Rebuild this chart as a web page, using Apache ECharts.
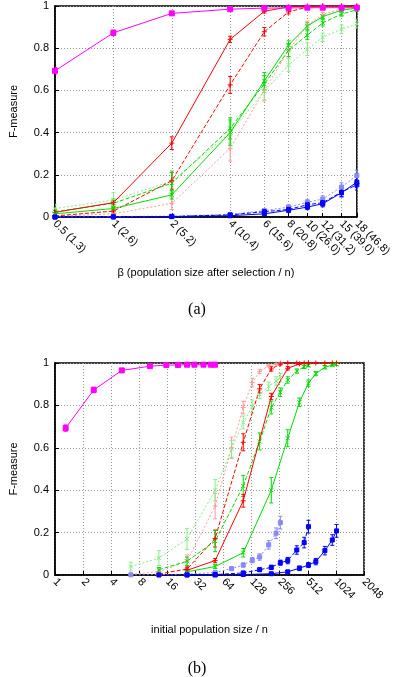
<!DOCTYPE html>
<html><head><meta charset="utf-8">
<script src="https://cdn.jsdelivr.net/npm/echarts@6/dist/echarts.min.js"></script>
<style>html,body{margin:0;padding:0;background:#fff}#c{width:394px;height:677px}</style>
</head><body><div id="c"></div>
<script>
// ---- data ----
const beta = [0.5, 1, 2, 4, 6, 8, 10, 12, 15, 18, 20];
const topTickValues = [0.5, 1, 2, 4, 6, 8, 10, 12, 15, 18];
const topTickLabels = ['0.5 (1.3)', '1 (2.6)', '2 (5.2)', '4 (10.4)', '6 (15.6)', '8 (20.8)', '10 (26.0)', '12 (31.2)', '15 (39.0)', '18 (46.8)'];
const bottomTickValues = [1, 2, 4, 8, 16, 32, 64, 128, 256, 512, 1024, 2048];
// initial population size per unit of beta
const kMagenta = 2.6, kSolid = 52, kDashed = 26, kLight = 13;

const magenta      = [0.693, 0.873, 0.965, 0.985, 0.990, 0.991, 0.992, 0.992, 0.992, 0.992, 0.992];
const magentaErr   = [0.015, 0.013, 0.006, 0.004, 0.003, 0.003, 0.003, 0.003, 0.003, 0.003, 0.003];
const redSolid     = [0.022, 0.068, 0.350, 0.842, 0.975, 0.996, 1.000, 1.000, 1.000, 1.000, 1.000];
const redSolidErr  = [0.005, 0.010, 0.030, 0.015, 0.008, 0.003, 0.002, 0.002, 0.002, 0.002, 0.002];
const redDashed    = [0.005, 0.028, 0.172, 0.626, 0.878, 0.972, 0.995, 1.000, 1.000, 1.000, 1.000];
const redDashedErr = [0.003, 0.010, 0.040, 0.040, 0.020, 0.010, 0.005, 0.002, 0.002, 0.002, 0.002];
const redLight     = [0.003, 0.015, 0.065, 0.325, 0.600, 0.790, 0.908, 0.960, 0.987, 0.995, 1.000];
const redLightErr  = [0.003, 0.008, 0.030, 0.060, 0.050, 0.030, 0.020, 0.010, 0.005, 0.003, 0.002];
const greenSolid     = [0.015, 0.040, 0.105, 0.400, 0.645, 0.815, 0.905, 0.950, 0.980, 0.990, 0.993];
const greenSolidErr  = [0.005, 0.010, 0.020, 0.060, 0.040, 0.020, 0.015, 0.010, 0.008, 0.005, 0.005];
const greenDashed    = [0.025, 0.065, 0.160, 0.420, 0.630, 0.790, 0.862, 0.920, 0.962, 0.982, 0.988];
const greenDashedErr = [0.010, 0.020, 0.050, 0.050, 0.040, 0.030, 0.020, 0.015, 0.010, 0.008, 0.006];
const greenLight     = [0.040, 0.080, 0.170, 0.400, 0.595, 0.720, 0.795, 0.852, 0.890, 0.915, 0.930];
const greenLightErr  = [0.020, 0.035, 0.050, 0.050, 0.040, 0.030, 0.030, 0.020, 0.020, 0.020, 0.020];
const blueSolid      = [0.000, 0.000, 0.002, 0.006, 0.015, 0.032, 0.047, 0.063, 0.115, 0.165, 0.208];
const blueSolidErr   = [0.001, 0.001, 0.002, 0.004, 0.006, 0.010, 0.012, 0.015, 0.020, 0.025, 0.030];
const blueDashed     = [0.000, 0.001, 0.002, 0.010, 0.025, 0.036, 0.058, 0.068, 0.118, 0.153, 0.228];
const blueDashedErr  = [0.001, 0.001, 0.002, 0.004, 0.008, 0.010, 0.012, 0.015, 0.020, 0.025, 0.030];
const blueLight      = [0.001, 0.002, 0.004, 0.012, 0.030, 0.047, 0.070, 0.085, 0.142, 0.197, 0.247];
const blueLightErr   = [0.001, 0.001, 0.002, 0.004, 0.008, 0.010, 0.012, 0.015, 0.020, 0.025, 0.030];

// ---- styles ----
const PLUS = 'path://M0,-5L0,5M-5,0L5,0';
const CROSS = 'path://M-5,-5L5,5M-5,5L5,-5';
const specs = [
  {v: redLight,    e: redLightErr,    k: kLight,  color: '#ff9a9a', dash: [2, 2], sym: PLUS,  size: 5},
  {v: greenLight,  e: greenLightErr,  k: kLight,  color: '#88ee88', dash: [2, 2], sym: CROSS, size: 4},
  {v: blueLight,   e: blueLightErr,   k: kLight,  color: '#8888ff', dash: [2, 2], sym: 'rect', size: 4},
  {v: redDashed,   e: redDashedErr,   k: kDashed, color: '#ff0000', dash: [4, 2], sym: PLUS,  size: 5},
  {v: greenDashed, e: greenDashedErr, k: kDashed, color: '#00dd00', dash: [4, 2], sym: CROSS, size: 4},
  {v: blueDashed,  e: blueDashedErr,  k: kDashed, color: '#0000ff', dash: [4, 2], sym: 'rect', size: 4},
  {v: redSolid,    e: redSolidErr,    k: kSolid,  color: '#ff0000', dash: 'solid', sym: PLUS,  size: 5},
  {v: greenSolid,  e: greenSolidErr,  k: kSolid,  color: '#00dd00', dash: 'solid', sym: CROSS, size: 4},
  {v: blueSolid,   e: blueSolidErr,   k: kSolid,  color: '#0000ff', dash: 'solid', sym: 'rect', size: 4},
  {v: magenta,     e: magentaErr,     k: kMagenta, color: '#ff00ff', dash: 'solid', sym: 'rect', size: 5}
];

const FONT = 'Liberation Sans, Arial, sans-serif';
function errRender(color) {
  return function (params, api) {
    const x = api.value(0);
    const p1 = api.coord([x, api.value(1)]);
    const p2 = api.coord([x, api.value(2)]);
    const w = 2;
    const st = {stroke: color, lineWidth: 1};
    return {type: 'group', children: [
      {type: 'line', shape: {x1: p1[0], y1: p1[1], x2: p2[0], y2: p2[1]}, style: st},
      {type: 'line', shape: {x1: p1[0] - w, y1: p1[1], x2: p1[0] + w, y2: p1[1]}, style: st},
      {type: 'line', shape: {x1: p2[0] - w, y1: p2[1], x2: p2[0] + w, y2: p2[1]}, style: st}
    ]};
  };
}

const series = [];
[0, 1].forEach(function (g) {
  specs.forEach(function (s) {
    const xs = beta.map(function (b) { return g === 0 ? b : b * s.k; });
    series.push({
      type: 'custom', xAxisIndex: g, yAxisIndex: g, clip: true, silent: true,
      renderItem: errRender(s.color),
      encode: {x: 0, y: [1, 2]},
      data: xs.map(function (x, i) { return [x, Math.max(0, s.v[i] - s.e[i]), s.v[i] + s.e[i]]; })
    });
    series.push({
      type: 'line', xAxisIndex: g, yAxisIndex: g, clip: true, silent: true,
      data: xs.map(function (x, i) { return [x, s.v[i]]; }),
      symbol: s.sym, symbolSize: s.size, showSymbol: true,
      lineStyle: {color: s.color, width: 1, type: s.dash},
      itemStyle: {color: s.color, borderColor: s.color, borderWidth: 1},
      animation: false
    });
  });
});

const gridLine = {show: true, lineStyle: {color: '#999', width: 1, type: [1, 2]}};
function yAxis(g) {
  return {
    type: 'value', gridIndex: g, min: 0, max: 1, interval: 0.2,
    name: 'F-measure', nameLocation: 'middle', nameGap: 36, nameRotate: 90,
    nameTextStyle: {fontFamily: FONT, fontSize: 11, color: '#000'},
    axisLine: {show: true, lineStyle: {color: '#000', width: 1.5}},
    axisTick: {show: true, inside: true, length: 4, lineStyle: {color: '#000'}},
    axisLabel: {fontFamily: FONT, fontSize: 11, color: '#000', margin: 6},
    splitLine: gridLine
  };
}

const option = {
  animation: false,
  backgroundColor: '#fff',
  title: [
    {text: '(a)', left: 'center', top: 297, textStyle: {fontFamily: 'Liberation Serif, Times New Roman, serif', fontSize: 16, fontWeight: 'normal', color: '#000'}},
    {text: '(b)', left: 'center', top: 656, textStyle: {fontFamily: 'Liberation Serif, Times New Roman, serif', fontSize: 16, fontWeight: 'normal', color: '#000'}}
  ],
  grid: [
    {left: 55, right: 31, top: 6, height: 211, show: true, borderColor: '#000', borderWidth: 1.5, backgroundColor: 'transparent'},
    {left: 55, right: 30, top: 363, height: 212, show: true, borderColor: '#000', borderWidth: 1.5, backgroundColor: 'transparent'}
  ],
  xAxis: [
    {
      type: 'log', logBase: 2, gridIndex: 0, min: 0.5, max: 18,
      name: 'β (population size after selection / n)', nameLocation: 'middle', nameGap: 50,
      nameTextStyle: {fontFamily: FONT, fontSize: 11, color: '#000'},
      axisLine: {show: true, lineStyle: {color: '#000', width: 1.5}},
      axisTick: {show: true, inside: true, length: 4, customValues: topTickValues, lineStyle: {color: '#000'}},
      axisLabel: {customValues: topTickValues, rotate: -45, fontFamily: FONT, fontSize: 11, color: '#000', margin: 5,
        formatter: function (v) { const i = topTickValues.indexOf(+v); return i >= 0 ? topTickLabels[i] : ''; }},
      splitLine: gridLine
    },
    {
      type: 'log', logBase: 2, gridIndex: 1, min: 1, max: 2048,
      name: 'initial population size / n', nameLocation: 'middle', nameGap: 49,
      nameTextStyle: {fontFamily: FONT, fontSize: 11, color: '#000'},
      axisLine: {show: true, lineStyle: {color: '#000', width: 1.5}},
      axisTick: {show: true, inside: true, length: 4, customValues: bottomTickValues, lineStyle: {color: '#000'}},
      axisLabel: {customValues: bottomTickValues, rotate: -45, fontFamily: FONT, fontSize: 11, color: '#000', margin: 5,
        formatter: function (v) { return String(Math.round(v)); }},
      splitLine: gridLine
    }
  ],
  yAxis: [yAxis(0), yAxis(1)],
  series: series
};

const chart = echarts.init(document.getElementById('c'), null, {renderer: 'canvas'});
chart.setOption(option);
</script></body></html>
